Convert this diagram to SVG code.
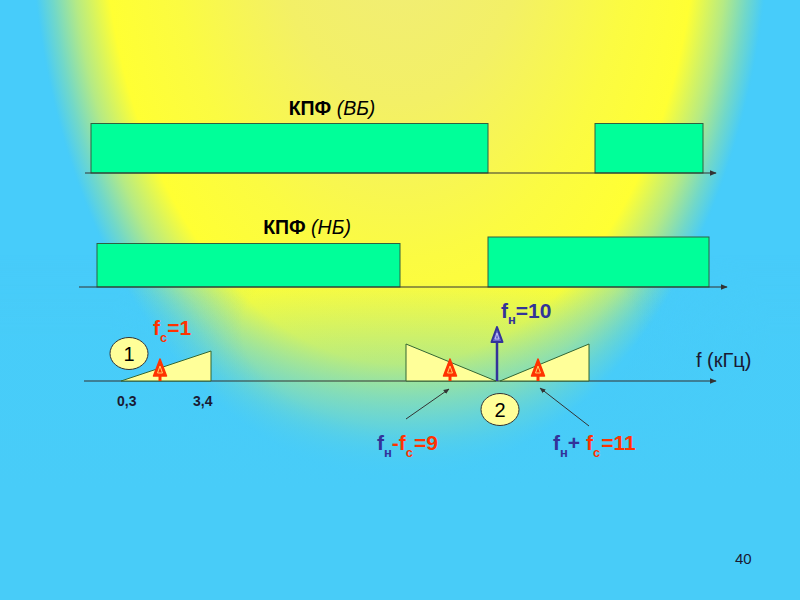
<svg xmlns="http://www.w3.org/2000/svg" width="800" height="600" viewBox="0 0 800 600">
<defs>
<radialGradient id="bg" gradientUnits="userSpaceOnUse" cx="0" cy="0" r="1" gradientTransform="translate(400 -100) scale(371 580)">
<stop offset="0" stop-color="#f0ec7c"/>
<stop offset="0.35" stop-color="#f3f066"/>
<stop offset="0.62" stop-color="#fbfb42"/>
<stop offset="0.8" stop-color="#ffff33"/>
<stop offset="0.89" stop-color="#b5ea85"/>
<stop offset="0.95" stop-color="#72d8c8"/>
<stop offset="0.995" stop-color="#48ccf8"/>
<stop offset="1" stop-color="#47ccfa"/>
</radialGradient>
<linearGradient id="bot" gradientUnits="userSpaceOnUse" x1="0" y1="280" x2="0" y2="490">
<stop offset="0" stop-color="#48ccf8" stop-opacity="0"/>
<stop offset="1" stop-color="#48ccf8" stop-opacity="1"/>
</linearGradient>
<radialGradient id="side" gradientUnits="userSpaceOnUse" cx="0" cy="0" r="1" gradientTransform="translate(440 330) scale(330 170)">
<stop offset="0" stop-color="#48ccf8" stop-opacity="0"/>
<stop offset="0.6" stop-color="#48ccf8" stop-opacity="0"/>
<stop offset="1" stop-color="#48ccf8" stop-opacity="0.85"/>
</radialGradient>
<linearGradient id="fadeMask" gradientUnits="userSpaceOnUse" x1="0" y1="255" x2="0" y2="335">
<stop offset="0" stop-color="#000"/>
<stop offset="1" stop-color="#fff"/>
</linearGradient>
<mask id="lowMask" maskUnits="userSpaceOnUse" x="0" y="0" width="800" height="600">
<rect width="800" height="600" fill="url(#fadeMask)"/>
</mask>
<marker id="ah" viewBox="0 0 10 10" refX="9" refY="5" markerWidth="6" markerHeight="6" orient="auto">
<path d="M0,1 L10,5 L0,9 z" fill="#333"/>
</marker>
<g id="redArrow">
<line x1="0" y1="0" x2="0" y2="-10" stroke="#ff3300" stroke-width="3"/>
<polygon points="0,-22 -6.5,-5 6.5,-5" fill="#ff3300" stroke="#ff3300" stroke-width="1.5" stroke-linejoin="round"/>
<polygon points="0,-15 -2.5,-8 2.5,-8" fill="none" stroke="#ffcc66" stroke-width="1"/>
</g>
</defs>
<style>
.filt{fill:#00ff99;stroke:#2f6040;stroke-width:1}
.axis{stroke:#333;stroke-width:1.2;fill:none}
.tri{fill:#ffff99;stroke:#336633;stroke-width:1}
.ell{fill:#ffff99;stroke:#333;stroke-width:1}
.ttl{font-family:"Liberation Sans",Arial,sans-serif;font-size:19.5px;fill:#000}
.num{font-family:"Liberation Sans",Arial,sans-serif;font-size:14px;font-weight:bold;fill:#1a1a33}
.big{font-family:"Liberation Sans",Arial,sans-serif;font-size:21px;font-weight:bold}
.red{fill:#ff3300}
.blue{fill:#333399}
.lbl{font-family:"Liberation Sans",Arial,sans-serif;font-size:20px;fill:#000}
</style>
<rect width="800" height="600" fill="url(#bg)"/>
<rect width="800" height="600" fill="url(#side)" mask="url(#lowMask)"/>
<rect y="280" width="800" height="320" fill="url(#bot)"/>

<g id="band-vb">
<text class="ttl" x="332" y="115" text-anchor="middle"><tspan font-weight="bold">КПФ</tspan> <tspan font-style="italic">(ВБ)</tspan></text>
<rect class="filt" x="91" y="123.5" width="397" height="49.5"/>
<rect class="filt" x="595" y="123.5" width="108" height="49.5"/>
<line class="axis" x1="85" y1="173" x2="716" y2="173" marker-end="url(#ah)"/>
</g>

<g id="band-nb">
<text class="ttl" x="307" y="234" text-anchor="middle"><tspan font-weight="bold">КПФ</tspan> <tspan font-style="italic">(НБ)</tspan></text>
<rect class="filt" x="97" y="243.5" width="303" height="43.5"/>
<rect class="filt" x="488" y="237" width="221" height="50"/>
<line class="axis" x1="79" y1="287" x2="727" y2="287" marker-end="url(#ah)"/>
</g>

<g id="spectrum">
<line class="axis" x1="84" y1="381" x2="716" y2="381" marker-end="url(#ah)"/>
<text x="696" y="367" font-family="'Liberation Sans',Arial,sans-serif" font-size="20" fill="#1a1a33">f (кГц)</text>
</g>

<g id="signal">
<polygon class="tri" points="121,381 211,351 211,381"/>
<use href="#redArrow" x="160" y="381"/>
<text class="big red" x="153" y="335">f<tspan font-size="13" dy="7">с</tspan><tspan dy="-7">=1</tspan></text>
<text class="num" x="117" y="406">0,3</text>
<text class="num" x="193" y="406">3,4</text>
</g>
<g id="label1">
<ellipse class="ell" cx="129" cy="353.5" rx="19" ry="16"/>
<text class="lbl" x="129" y="361" text-anchor="middle">1</text>
</g>

<g id="modulated">
<polygon class="tri" points="406,344 406,381 496,381"/>
<polygon class="tri" points="500,381 589,344 589,381"/>
<use href="#redArrow" x="450" y="381"/>
<use href="#redArrow" x="538" y="381"/>
</g>
<g id="carrier">
<line x1="497" y1="381" x2="497" y2="340" stroke="#333399" stroke-width="2.5"/>
<polygon points="497,327 491.5,342 502.5,342" fill="#6666cc" stroke="#333399" stroke-width="2" stroke-linejoin="round"/>
<polygon points="497,333 495,339 499,339" fill="none" stroke="#ccccff" stroke-width="0.8"/>
<text class="big blue" x="501" y="318">f<tspan font-size="13" dy="6">н</tspan><tspan dy="-6">=10</tspan></text>
</g>
<g id="label2">
<ellipse class="ell" cx="500" cy="409.5" rx="19" ry="16"/>
<text class="lbl" x="500" y="417" text-anchor="middle">2</text>
</g>

<g id="connectors">
<line x1="406" y1="419" x2="449" y2="389" stroke="#333" stroke-width="1" marker-end="url(#ah)"/>
<line x1="589" y1="426" x2="540" y2="388" stroke="#333" stroke-width="1" marker-end="url(#ah)"/>
</g>

<g id="lower-side">
<text class="big" x="377" y="450"><tspan class="blue">f</tspan><tspan class="blue" font-size="13" dy="7">н</tspan><tspan class="red" dy="-7">-f</tspan><tspan class="red" font-size="13" dy="7">с</tspan><tspan class="red" dy="-7" dx="1">=9</tspan></text>
</g>
<g id="upper-side">
<text class="big" x="553" y="450"><tspan class="blue">f</tspan><tspan class="blue" font-size="13" dy="7">н</tspan><tspan class="blue" dy="-7">+ </tspan><tspan class="red">f</tspan><tspan class="red" font-size="13" dy="7">с</tspan><tspan class="red" dy="-7" dx="1">=11</tspan></text>
</g>

<text x="735" y="564" font-family="'Liberation Sans',Arial,sans-serif" font-size="15" fill="#1a1a33">40</text>
</svg>
